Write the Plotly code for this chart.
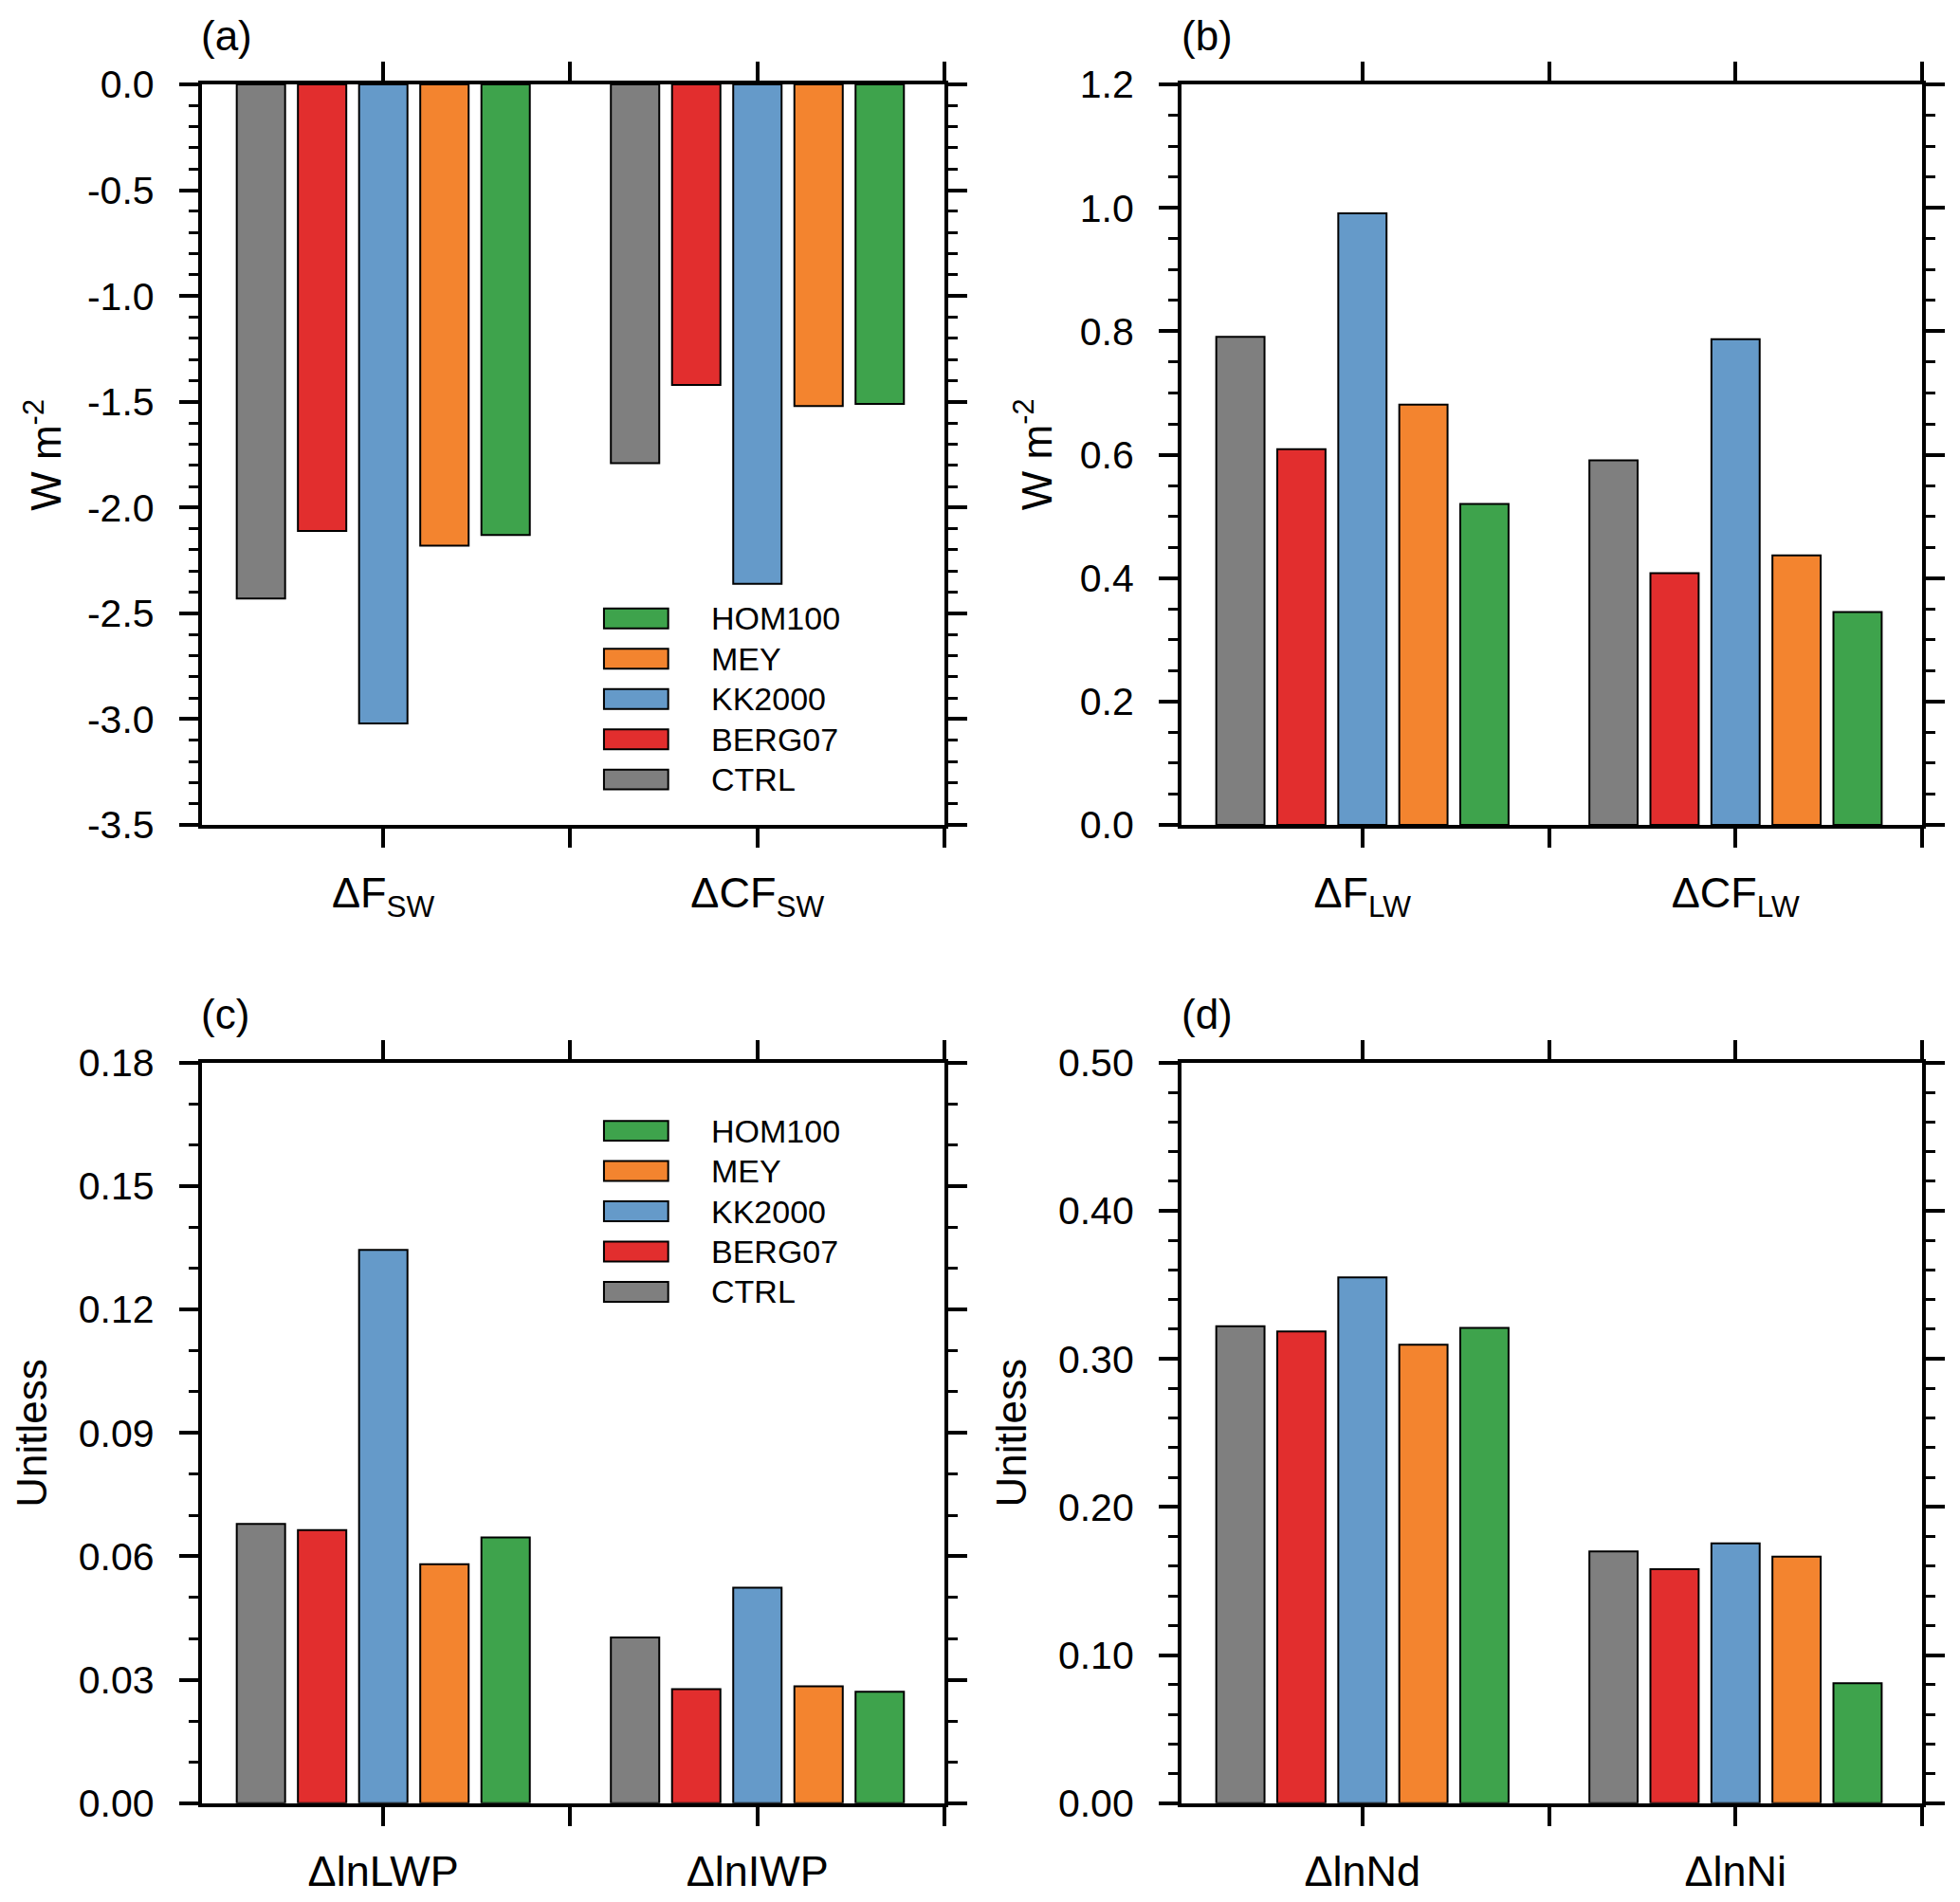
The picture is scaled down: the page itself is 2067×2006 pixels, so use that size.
import plotly.graph_objects as go
from plotly.subplots import make_subplots

# experiments, in bar order (left -> right)
models = ["CTRL", "BERG07", "KK2000", "MEY", "HOM100"]
colors = ["#7f7f7f", "#e22e2e", "#659ac9", "#f3842f", "#3ea34c"]

xpos = [1, 2]

# (a) shortwave
cats_a = ["ΔF<sub>SW</sub>", "ΔCF<sub>SW</sub>"]
vals_a = [[-2.43, -1.79], [-2.11, -1.42], [-3.02, -2.36], [-2.18, -1.52], [-2.13, -1.51]]
yticks_a = [0.0, -0.5, -1.0, -1.5, -2.0, -2.5, -3.0, -3.5]

# (b) longwave
cats_b = ["ΔF<sub>LW</sub>", "ΔCF<sub>LW</sub>"]
vals_b = [[0.791, 0.591], [0.609, 0.408], [0.991, 0.787], [0.681, 0.437], [0.520, 0.345]]
yticks_b = [0.0, 0.2, 0.4, 0.6, 0.8, 1.0, 1.2]

# (c) water paths
cats_c = ["ΔlnLWP", "ΔlnIWP"]
vals_c = [[0.0679, 0.0403], [0.0664, 0.0277], [0.1345, 0.0524], [0.0581, 0.0284], [0.0646, 0.0271]]
yticks_c = [0.0, 0.03, 0.06, 0.09, 0.12, 0.15, 0.18]

# (d) number concentrations
cats_d = ["ΔlnNd", "ΔlnNi"]
vals_d = [[0.322, 0.170], [0.3185, 0.158], [0.355, 0.1755], [0.3095, 0.1665], [0.321, 0.081]]
yticks_d = [0.0, 0.1, 0.2, 0.3, 0.4, 0.5]

FONT = "Liberation Sans"

fig = make_subplots(rows=2, cols=2)

xdom = {1: [0.0991, 0.4780], 2: [0.5989, 0.9768]}
ydom = {1: [0.5719, 0.9704], 2: [0.0455, 0.4440]}

panels = [
    (1, 1, cats_a, vals_a, yticks_a, "{:.1f}", 0.1, "W m<sup>-2</sup>", "(a)", -0.214, 0.2788),
    (1, 2, cats_b, vals_b, yticks_b, "{:.1f}", 0.05, "W m<sup>-2</sup>", "(b)", -0.200, None),
    (2, 1, cats_c, vals_c, yticks_c, "{:.2f}", 0.01, "Unitless", "(c)", -0.229, 0.908),
    (2, 2, cats_d, vals_d, yticks_d, "{:.2f}", 0.02, "Unitless", "(d)", -0.230, None),
]

for row, col, cats, vals, yt, fmt, mdt, ytitle, tag, tx, leg_y in panels:
    n = (row - 1) * 2 + col
    xn = "x" if n == 1 else "x%d" % n
    yn = "y" if n == 1 else "y%d" % n

    for i, m in enumerate(models):
        fig.add_trace(go.Bar(x=xpos, y=vals[i], name=m,
                             marker=dict(color=colors[i], line=dict(color="black", width=2)),
                             showlegend=False), row=row, col=col)

    fig.update_xaxes(domain=xdom[col], range=[0.515, 2.5],
                     tickvals=xpos, ticktext=cats,
                     minor=dict(tick0=0.5, dtick=0.5, ticks="outside", ticklen=20, tickwidth=4,
                                tickcolor="black", showgrid=False),
                     row=row, col=col)
    fig.update_yaxes(domain=ydom[row], range=[min(yt), max(yt)],
                     tickvals=yt, ticktext=[fmt.format(v) for v in yt],
                     minor=dict(dtick=mdt, ticks="outside", ticklen=10, tickwidth=3,
                                tickcolor="black", showgrid=False),
                     row=row, col=col)

    # y title and panel tag
    fig.add_annotation(text=ytitle, xref=xn + " domain", yref=yn + " domain",
                       x=tx, y=0.5, textangle=-90, showarrow=False,
                       xanchor="center", yanchor="middle",
                       font=dict(family=FONT, size=44, color="black"))
    fig.add_annotation(text=tag, xref=xn + " domain", yref=yn + " domain",
                       x=-0.003, y=1.066, showarrow=False,
                       xanchor="left", yanchor="middle",
                       font=dict(family=FONT, size=44, color="black"))

    # hand-drawn legend with wide swatches (HOM100 on top)
    if leg_y is not None:
        for k in range(len(models)):
            i = len(models) - 1 - k
            yc = leg_y - k * 0.05435
            fig.add_shape(type="rect", xref=xn + " domain", yref=yn + " domain",
                          x0=0.5415, x1=0.628, y0=yc - 0.0134, y1=yc + 0.0134,
                          fillcolor=colors[i], line=dict(color="black", width=2))
            fig.add_annotation(text=models[i], xref=xn + " domain", yref=yn + " domain",
                               x=0.683, y=yc, showarrow=False,
                               xanchor="left", yanchor="middle",
                               font=dict(family=FONT, size=34, color="black"))

axis_style = dict(showline=True, linecolor="black", linewidth=4, mirror="ticks",
                  ticks="outside", ticklen=20, tickwidth=4, tickcolor="black",
                  showgrid=False, zeroline=False)
fig.update_xaxes(**axis_style, ticklabelstandoff=9,
                 tickfont=dict(family=FONT, size=45, color="black"))
fig.update_yaxes(**axis_style, ticklabelstandoff=18,
                 tickfont=dict(family=FONT, size=41, color="black"))

fig.update_layout(
    width=2067, height=2006, autosize=False,
    margin=dict(l=0, r=0, t=0, b=0),
    barmode="group", bargap=0.1825, bargroupgap=0.209,
    plot_bgcolor="white", paper_bgcolor="white",
    showlegend=False,
    font=dict(family=FONT, color="black"),
)

fig.write_html("out.html")
